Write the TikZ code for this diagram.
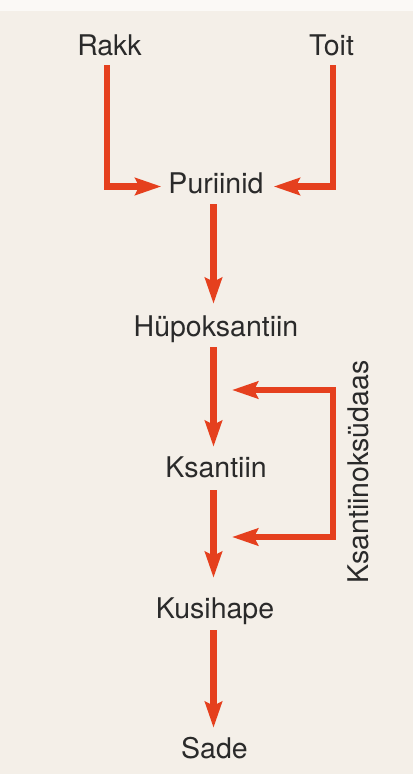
\documentclass[tikz,border=0pt]{standalone}
\usepackage{fontspec}
\setmainfont{TeX Gyre Heros}
\usetikzlibrary{arrows.meta}
\definecolor{bg}{HTML}{F4EFE8}
\definecolor{arrred}{HTML}{E5401E}
\definecolor{txt}{HTML}{2A2A2A}
\tikzset{
  lbl/.style={inner sep=0pt, anchor=base, text=txt, font=\fontsize{28.5}{30}\selectfont,
              text height=21pt, text depth=6pt},
  arr/.style={draw=arrred, line width=6.5pt, line join=miter,
              -{Stealth[length=26pt,width=17pt,inset=4pt]}},
  arr2/.style={draw=arrred, line width=6.5pt, line join=miter,
              {Stealth[length=26pt,width=17pt,inset=4pt]}-{Stealth[length=26pt,width=17pt,inset=4pt]}}
}
\begin{document}
\begin{tikzpicture}[x=1pt,y=-1pt]
\useasboundingbox (0,0) rectangle (413,774);
\fill[bg] (0,0) rectangle (413,774);
\fill[white!60!bg] (0,0) rectangle (413,11);

\node[lbl] (rakk) at (109.5,55) {Rakk};
\node[lbl] (toit) at (331.5,55) {Toit};
\node[lbl] (puri) at (216,193) {Puriinid};
\node[lbl] (hypo) at (216,336) {Hüpoksantiin};
\node[lbl] (ksan) at (216,477) {Ksantiin};
\node[lbl] (kusi) at (215,618) {Kusihape};
\node[lbl] (sade) at (214.5,758) {Sade};
\node[inner sep=0pt, text=txt, font=\fontsize{28.5}{30}\selectfont, rotate=90] (enz) at (358,472) {Ksantiinoksüdaas};

\draw[arr, shorten <=4pt, shorten >=7pt] ([xshift=-2.5pt]rakk.south) |- ([yshift=-1pt]puri.west);
\draw[arr, shorten <=4pt, shorten >=10pt] ([xshift=1.5pt]toit.south) |- ([yshift=-1pt]puri.east);

\draw[arr, shorten <=5pt, shorten >=11pt] ([xshift=-2.5pt]puri.south) -- ([xshift=-2.5pt]hypo.north);
\draw[arr, shorten <=5pt, shorten >=9pt] ([xshift=-2.5pt]hypo.south) -- ([xshift=-2.5pt]ksan.north);
\draw[arr, shorten <=7pt, shorten >=19pt] ([xshift=-2.5pt]ksan.south) -- ([xshift=-1.5pt]kusi.north);
\draw[arr, shorten <=6pt, shorten >=9pt] ([xshift=-1.5pt]kusi.south) -- ([xshift=-1pt]sade.north);

\coordinate (t1) at (232,390);
\coordinate (c1) at (333,390);
\coordinate (c2) at (333,537);
\coordinate (t2) at (232,537);
\draw[arr2] (t1) -- (c1) -- (c2) -- (t2);
\end{tikzpicture}
\end{document}
